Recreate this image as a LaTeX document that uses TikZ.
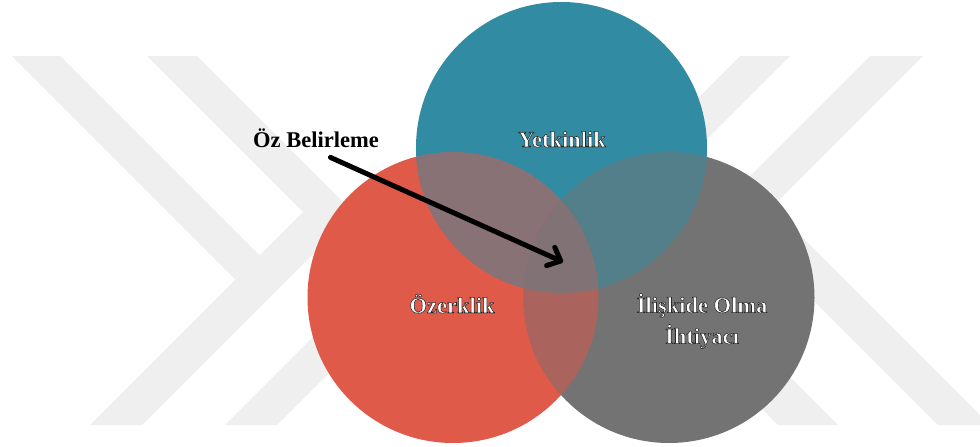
\documentclass[tikz,border=0pt]{standalone}
\usepackage{fontspec}
\setmainfont{Liberation Serif}
\usetikzlibrary{arrows.meta}

\definecolor{wmark}{RGB}{239,239,239}
\definecolor{tealc}{RGB}{49,139,163}
\definecolor{redc}{RGB}{224,90,74}
\definecolor{grayc}{RGB}{115,115,115}
\definecolor{redteal}{RGB}{136,114,118}
\definecolor{tealgray}{RGB}{83,127,139}
\definecolor{redgray}{RGB}{170,100,93}
\definecolor{allthree}{RGB}{129,114,117}

\newcommand\ringr{145.5pt}

% glyphs filled with the current colour and stroked with a thin dark rim
\newcommand\rimtext[1]{%
  \special{pdf:literal direct 2 Tr 0.55 w 0.15 0.15 0.15 RG}#1\special{pdf:literal direct 0 Tr}}

\begin{document}
\begin{tikzpicture}[x=1pt,y=-1pt,
  lbl/.style={font=\bfseries\fontsize{22.5}{31}\selectfont, inner sep=0pt, align=center},
  circlelabel/.style={lbl, text=white},
  pointer/.style={line width=5pt, line cap=round, draw=black,
    -{Straight Barb[length=11pt,width=20pt,round]}}]

\useasboundingbox (0,0) rectangle (980,447);
\fill[white] (0,0) rectangle (980,447);

% faint chevron emblem behind the diagram
\begin{scope}
  \clip (0,0) rectangle (980,447);
  \fill[wmark] (12,56) -- (60,56) -- (259.5,255.5) -- (235.5,279.5) -- cycle;
  \fill[wmark] (147,56) -- (197,56) -- (354,213) -- (142,425) -- (90,425) -- (303,212) -- cycle;
  \fill[wmark] (225,425) -- (277,425) -- (442,260) -- (390,260) -- cycle;
  \fill[wmark] (870,56) -- (923,56) -- (772,207) -- (990,425) -- (938,425) -- (719.5,206.5) -- cycle;
  \fill[wmark] (740,56) -- (790,56) -- (629.5,216.5) -- (838,425) -- (778,425) -- (574.5,221.5) -- cycle;
\end{scope}

% circle centres
\coordinate (cR) at (453,297.5);
\coordinate (cG) at (669,297.5);
\coordinate (cT) at (561.5,147.5);

% base discs
\fill[redc]  (cR) circle[radius=\ringr];
\fill[grayc] (cG) circle[radius=\ringr];
\fill[tealc] (cT) circle[radius=\ringr];

% overlaps
\begin{scope}
  \clip (cT) circle[radius=\ringr];
  \fill[tealgray] (cG) circle[radius=\ringr];
\end{scope}
\begin{scope}
  \clip (cR) circle[radius=\ringr];
  \fill[redteal] (cT) circle[radius=\ringr];
  \fill[redgray] (cG) circle[radius=\ringr];
  \clip (cT) circle[radius=\ringr];
  \fill[allthree] (cG) circle[radius=\ringr];
\end{scope}

% labels
\node[circlelabel, anchor=base]   (yet) at (562,147) {\rimtext{Yetkinlik}};
\node[circlelabel, anchor=base]   (oze) at (452,313) {\rimtext{Özerklik}};
\node[circlelabel, anchor=center] (ili) at (702,321) {\rimtext{İlişkide Olma\\İhtiyacı}};

\node[lbl, text=black, anchor=base west] (oz) at (253,147) {Öz Belirleme};

% pointer into the common area
\coordinate (tip) at (563,262);
\draw[pointer] ([shift={(14.5,10)}]oz.south) -- (tip);

\end{tikzpicture}
\end{document}
